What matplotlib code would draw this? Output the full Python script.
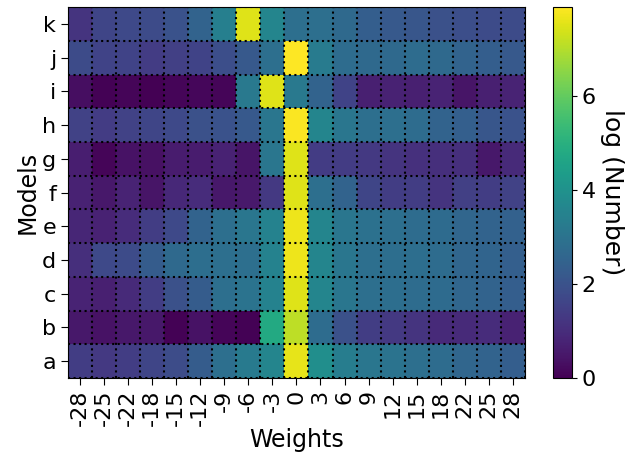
import numpy as np
import matplotlib
matplotlib.use('Agg')
import matplotlib.pyplot as plt

models = ['a', 'b', 'c', 'd', 'e', 'f', 'g', 'h', 'i', 'j', 'k']
weights = ['-28', '-25', '-22', '-18', '-15', '-12', '-9', '-6', '-3', '0',
           '3', '6', '9', '12', '15', '18', '22', '25', '28']

# log(Number), one list per model (rows a..k), columns follow weights
a = [1.45, 1.3, 1.45, 1.65, 1.85, 2.3, 2.9, 3.25, 3.6, 7.6, 3.9, 3.35, 3.1, 3.0, 2.9, 2.8, 2.6, 2.5, 2.35]
b = [0.5, 0.4, 0.5, 0.5, 0.05, 0.4, 0.1, 0.05, 4.8, 7.1, 2.8, 1.95, 1.45, 1.3, 1.2, 0.95, 0.95, 1.0, 0.75]
c = [0.8, 0.7, 0.95, 1.45, 1.95, 2.3, 2.9, 3.0, 3.5, 7.5, 3.6, 3.1, 2.9, 2.85, 2.8, 2.75, 2.6, 2.5, 2.35]
d = [1.05, 1.75, 1.8, 2.3, 2.7, 2.85, 2.9, 2.9, 3.5, 7.7, 3.6, 3.1, 2.9, 2.85, 2.85, 2.8, 2.6, 2.55, 2.4]
e = [0.85, 0.75, 1.0, 1.45, 1.75, 2.5, 2.9, 3.1, 3.5, 7.7, 3.6, 3.1, 2.95, 2.9, 2.8, 2.75, 2.6, 2.5, 2.45]
f = [0.75, 0.5, 0.8, 0.45, 0.9, 1.0, 0.5, 0.55, 1.3, 7.5, 2.9, 2.5, 1.65, 1.45, 1.45, 1.2, 1.5, 1.45, 1.55]
g = [0.65, 0.1, 0.4, 0.35, 0.6, 0.6, 0.75, 0.45, 3.1, 7.5, 1.4, 1.4, 1.3, 1.2, 1.1, 1.05, 1.05, 0.5, 0.95]
h = [1.55, 1.4, 1.55, 1.65, 1.75, 1.95, 2.0, 2.2, 3.1, 7.85, 3.6, 3.1, 2.9, 2.9, 2.8, 2.5, 2.4, 2.1, 2.0]
i = [0.3, 0.05, 0.1, 0.0, 0.1, 0.15, 0.1, 3.2, 7.5, 3.2, 2.5, 1.6, 0.7, 0.75, 0.7, 0.8, 0.45, 0.7, 0.8]
j = [1.8, 1.6, 1.6, 1.4, 1.5, 1.6, 1.9, 2.2, 2.9, 7.9, 3.3, 2.8, 2.7, 2.7, 2.8, 2.7, 2.5, 2.35, 2.2]
k = [1.2, 1.65, 1.75, 1.8, 2.0, 2.5, 3.4, 7.5, 3.6, 2.9, 2.9, 2.7, 2.35, 2.2, 2.1, 1.95, 1.9, 1.8, 1.8]

data = np.array([a, b, c, d, e, f, g, h, i, j, k])

plt.rcParams['font.size'] = 16

fig = plt.figure(figsize=(6.39, 4.59), dpi=100)
ax = fig.add_axes([0.1064, 0.1765, 0.715, 0.808])
cax = fig.add_axes([0.8654, 0.1765, 0.0297, 0.808])

im = ax.imshow(data, cmap='viridis', origin='lower', aspect='auto', vmin=0)

ax.set_xticks(np.arange(len(weights)))
ax.set_xticklabels(weights, rotation=90)
ax.set_yticks(np.arange(len(models)))
ax.set_yticklabels(models)
ax.set_xticks(np.arange(-0.5, len(weights)), minor=True)
ax.set_yticks(np.arange(-0.5, len(models)), minor=True)
ax.grid(which='minor', color='k', linestyle=':', linewidth=1.5)
ax.tick_params(which='minor', length=0)
ax.tick_params(which='major', length=5)
ax.set_xlabel('Weights', fontsize=17, labelpad=1)
ax.set_ylabel('Models', fontsize=17, labelpad=2)

cb = fig.colorbar(im, cax=cax)
cb.set_ticks([0, 2, 4, 6])
cb.set_label('log (Number)', fontsize=18, rotation=270, labelpad=20)

plt.savefig('out.png', dpi=100)
